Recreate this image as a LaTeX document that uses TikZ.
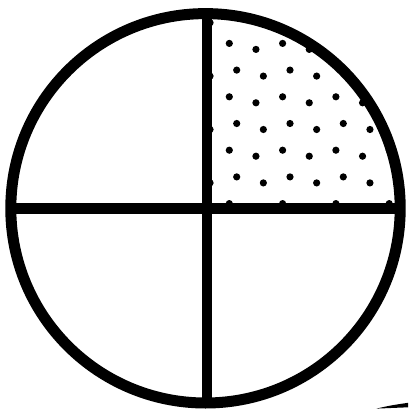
\documentclass[tikz,border=0pt]{standalone}
\begin{document}
\begin{tikzpicture}[x=1pt,y=-1pt,
  ring/.style={line width=11pt,draw=black},
  crossline/.style={line width=10.8pt,draw=black},
  dotmark/.style={fill=black}]
\useasboundingbox (0,0) rectangle (408,409);
\coordinate (c) at (205.5,208.3);
% dots in the top-right quadrant
\begin{scope}
  \clip (c) circle (194.7pt);
  \clip (207,0) rectangle (408,208.7);
  \foreach \j in {0,...,7}{
    \pgfmathsetmacro\xA{mod(\j,2)==0 ? 236.7 : 229.3}
    \pgfmathsetmacro\yA{16.7+26.7*\j}
    \foreach \k in {-1,...,4}{
      \fill[dotmark] ({\xA+53.3*\k},\yA) circle (3.6pt);
      \fill[dotmark] ({\xA+26.65+53.3*\k},{\yA+6}) circle (3.6pt);
    }
  }
\end{scope}
% cross
\begin{scope}
  \clip (c) circle (196pt);
  \coordinate (vt) at (207,0);
  \coordinate (vb) at (207,409);
  \coordinate (hl) at (0,208.7);
  \coordinate (hr) at (408,208.7);
  \draw[crossline] (vt) -- (vb);
  \draw[crossline] (hl) -- (hr);
\end{scope}
% outer ring
\draw[ring] (c) circle (194.7pt);
% sliver at the lower right
\fill (376.5,408.6) .. controls (390,405.5) .. (408,402.8) -- (408,407.3) .. controls (392,407.6) .. (376.5,408.6) -- cycle;
\end{tikzpicture}
\end{document}
